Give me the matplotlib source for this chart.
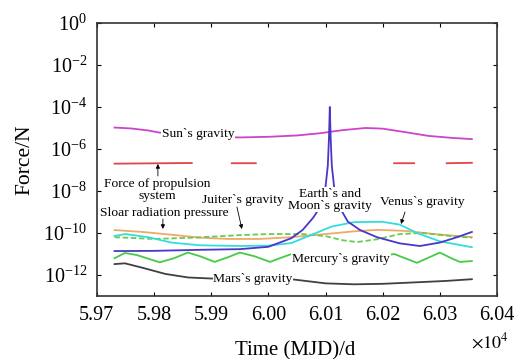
import numpy as np
import matplotlib
matplotlib.use("Agg")
import matplotlib.pyplot as plt
from matplotlib.ticker import FuncFormatter, NullLocator

plt.rcParams['font.family'] = 'serif'
plt.rcParams['font.serif'] = ['Liberation Serif', 'DejaVu Serif']
plt.rcParams['mathtext.fontset'] = 'stix'

nan = np.nan

# Sun's gravity
sun_t = [59731, 59760, 59790, 59810, 59850, 59900, 59950, 60000, 60050, 60090, 60130, 60170, 60200, 60240, 60280, 60320, 60356]
sun_f = [1.05e-5, 9.5e-6, 7.6e-6, 6.0e-6, 4.8e-6, 3.8e-6, 3.55e-6, 3.8e-6, 4.4e-6, 5.6e-6, 7.9e-6, 1.0e-5, 9.3e-6, 6.3e-6, 4.2e-6, 3.4e-6, 2.95e-6]

# force of propulsion system (thrust arcs only)
prop_t = [59731, 59866, nan, 59936, 59978, nan, 60220, 60255, nan, 60312, 60356]
prop_f = [2.0e-7, 2.15e-7, nan, 2.1e-7, 2.1e-7, nan, 2.1e-7, 2.1e-7, nan, 2.1e-7, 2.2e-7]

# solar radiation pressure
srp_t = [59731, 59780, 59830, 59880, 59930, 59985, 60040, 60100, 60150, 60190, 60240, 60290, 60356]
srp_f = [1.38e-10, 1.12e-10, 8.3e-11, 6.0e-11, 5.2e-11, 5.2e-11, 6.3e-11, 8.9e-11, 1.2e-10, 1.41e-10, 1.26e-10, 8.9e-11, 6.3e-11]

# Jupiter's gravity
jup_t = [59731, 59800, 59870, 59950, 60000, 60060, 60100, 60130, 60155, 60190, 60230, 60270, 60320, 60356]
jup_f = [6.3e-11, 5.2e-11, 6.0e-11, 7.9e-11, 8.9e-11, 8.9e-11, 7.1e-11, 4.5e-11, 3.7e-11, 5.0e-11, 8.9e-11, 1.0e-10, 7.1e-11, 6.0e-11]

# Venus's gravity
ven_t = [59731, 59750, 59790, 59830, 59880, 59950, 60000, 60040, 60070, 60110, 60150, 60200, 60230, 60260, 60300, 60356]
ven_f = [7.2e-11, 8.9e-11, 6.3e-11, 3.5e-11, 2.6e-11, 2.4e-11, 2.5e-11, 3.3e-11, 7.1e-11, 2.0e-10, 3.3e-10, 3.4e-10, 2.5e-10, 1.0e-10, 4.0e-11, 2.1e-11]

# Earth's and Moon's gravity (flyby near MJD 60108)
ear_t = [59731, 59800, 59880, 59950, 60000, 60040, 60060, 60078, 60090, 60100, 60104, 60106, 60107.5, 60109, 60111, 60115, 60125, 60139, 60160, 60190, 60230, 60265, 60300, 60330, 60356]
ear_f = [1.38e-11, 1.41e-11, 1.58e-11, 1.7e-11, 2.2e-11, 5.6e-11, 1.4e-10, 5.2e-10, 1.6e-9, 1.6e-8, 1.6e-7, 3.2e-6, 1.0e-4, 3.2e-6, 1.6e-7, 1.6e-8, 1.6e-9, 3.5e-10, 1.4e-10, 6.3e-11, 3.2e-11, 2.4e-11, 3.5e-11, 6.3e-11, 1.12e-10]

# Mercury's gravity
mer_t = [59731, 59749, 59770, 59810, 59835, 59859, 59880, 59906, 59930, 59950, 59975, 60003, 60030, 60045, 60100, 60160, 60220, 60260, 60300, 60320, 60335, 60356]
mer_f = [6.3e-12, 1.12e-11, 8.9e-12, 4.0e-12, 6.3e-12, 1.17e-11, 7.9e-12, 4.2e-12, 7.1e-12, 1.17e-11, 7.9e-12, 4.2e-12, 7.9e-12, 1.1e-11, 6.0e-12, 5.0e-12, 1.0e-11, 3.8e-12, 1.17e-11, 6.3e-12, 4.2e-12, 4.6e-12]

# Mars's gravity
mar_t = [59731, 59749, 59780, 59820, 59860, 59900, 60040, 60100, 60150, 60200, 60260, 60310, 60356]
mar_f = [3.3e-12, 3.6e-12, 2.2e-12, 1.12e-12, 7.6e-13, 6.8e-13, 6.3e-13, 4.0e-13, 3.6e-13, 3.8e-13, 4.5e-13, 5.2e-13, 6.3e-13]

fig = plt.figure(figsize=(5.18, 3.59), dpi=100)
ax = fig.add_axes([0.187, 0.1755, 0.7725, 0.7605])

lw = 1.3
ax.plot(sun_t, sun_f, color="#cc44cc", lw=lw)
ax.plot(prop_t, prop_f, color="#e04444", lw=lw)
ax.plot(srp_t, srp_f, color="#eeaa66", lw=lw)
ax.plot(jup_t, jup_f, color="#66cc55", lw=lw, ls=(0, (3, 1.5)))
ax.plot(ven_t, ven_f, color="#33dddd", lw=lw)
ax.plot(ear_t, ear_f, color="#4a36c8", lw=lw)
ax.plot(mer_t, mer_f, color="#44cc44", lw=lw)
ax.plot(mar_t, mar_f, color="#404040", lw=lw)

ax.set_yscale("log")
ax.set_ylim(1e-13, 1e0)
ax.set_xlim(59700, 60400)
ax.set_yticks([1e0, 1e-2, 1e-4, 1e-6, 1e-8, 1e-10, 1e-12])
ax.yaxis.set_minor_locator(NullLocator())
ax.set_xticks([59700, 59800, 59900, 60000, 60100, 60200, 60300, 60400])
ax.xaxis.set_major_formatter(FuncFormatter(lambda v, p: "%.2f" % (v / 1e4)))
ax.tick_params(direction="in", top=True, right=True, labelsize=14.5, length=3, pad=7)
for s in ax.spines.values():
    s.set_linewidth(1.2)
    s.set_color("#333333")

ax.set_xlabel("Time (MJD)/d", fontsize=15)
ax.set_ylabel("Force/N", fontsize=15.5)
ax.xaxis.set_label_coords(0.496, -0.165)
ax.yaxis.set_label_coords(-0.155, 0.5)
fig.text(0.946, 0.03, r"$\times 10^{4}$", fontsize=13, ha="center")

box = dict(facecolor="white", edgecolor="none", pad=0.5)
labels = [
    ("Sun`s gravity", 0.2525, 0.593),
    ("Force of propulsion\nsystem", 0.15, 0.388),
    ("Juiter`s gravity", 0.365, 0.352),
    ("Sloar radiation pressure", 0.1675, 0.304),
    ("Earth`s and\nMoon`s gravity", 0.5825, 0.353),
    ("Venus`s gravity", 0.8125, 0.344),
    ("Mercury`s gravity", 0.61, 0.1355),
    ("Mars`s gravity", 0.39, 0.062),
]
for txt, fx, fy in labels:
    ax.text(fx, fy, txt, transform=ax.transAxes, fontsize=9.7, ha="center", va="center",
            linespacing=1.0, bbox=box, zorder=5)

arrows = [
    ((0.1525, 0.4396), (0.1525, 0.4835)),
    ((0.35, 0.326), (0.3625, 0.2454)),
    ((0.165, 0.282), (0.165, 0.2454)),
    ((0.77, 0.3077), (0.76, 0.2637)),
]
for tail, tip in arrows:
    ax.annotate("", xy=tip, xytext=tail, xycoords="axes fraction", textcoords="axes fraction",
                arrowprops=dict(arrowstyle="-|>", lw=0.6, color="black", mutation_scale=6,
                                shrinkA=0, shrinkB=0), zorder=6)

fig.savefig("out.png", dpi=100)
